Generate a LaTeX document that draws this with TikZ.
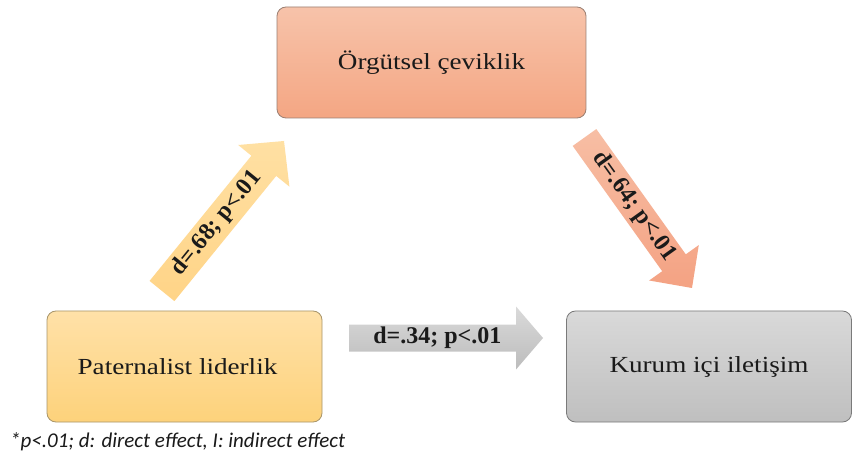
\documentclass[tikz,border=0pt]{standalone}
\usepackage{fontspec}
\setmainfont{Liberation Serif}
\newfontfamily\boxfont[FakeStretch=1.18]{Liberation Serif}
\newfontfamily\notefont{Carlito}
\usetikzlibrary{calc}
\definecolor{orgtop}{HTML}{F7C3AA}
\definecolor{orgbot}{HTML}{F4A683}
\definecolor{orgline}{HTML}{9A7F72}
\definecolor{pattop}{HTML}{FFE1A8}
\definecolor{patbot}{HTML}{FDD27B}
\definecolor{patline}{HTML}{A8956A}
\definecolor{kurtop}{HTML}{D9D9D9}
\definecolor{kurbot}{HTML}{BFBFBF}
\definecolor{kurline}{HTML}{7A7A7A}
\definecolor{uptop}{HTML}{FFE0A3}
\definecolor{upbot}{HTML}{FFD487}
\definecolor{dntop}{HTML}{F7BEA4}
\definecolor{dnbot}{HTML}{F4A283}
\definecolor{hztop}{HTML}{DADADA}
\definecolor{hzbot}{HTML}{BCBCBC}
\definecolor{ink}{HTML}{1A1A1A}
\newcommand{\myblockarrow}[6]{%
  \coordinate (hb) at ($(#2)!#5!(#1)$);
  \path[#6] ($(#1)!#3!90:(#2)$) -- ($(hb)!#3!90:(#2)$) -- ($(hb)!#4!90:(#2)$)
    -- (#2) -- ($(hb)!#4!-90:(#2)$) -- ($(hb)!#3!-90:(#2)$) -- ($(#1)!#3!-90:(#2)$) -- cycle;
}
\tikzset{
  stagebox/.style={rounded corners=9pt, line width=0.8pt, minimum height=111pt,
    inner sep=0pt, text=ink, font=\boxfont\fontsize{23}{27}\selectfont},
  arrlabel/.style={sloped, inner sep=0pt, text=ink, font=\bfseries\fontsize{24}{28}\selectfont},
}
\begin{document}
\begin{tikzpicture}[x=1pt,y=-1pt]
\useasboundingbox[fill=white] (0,0) rectangle (852,457);
% boxes
\node[stagebox, minimum width=309pt, draw=orgline, top color=orgtop, bottom color=orgbot]
  (org) at (431.5,62.5) {Örgütsel çeviklik};
\node[stagebox, minimum width=275pt, draw=patline, top color=pattop, bottom color=patbot]
  (pat) at (184.5,366.5) {\hspace*{-14pt}Paternalist liderlik};
\node[stagebox, minimum width=285pt, draw=kurline, top color=kurtop, bottom color=kurbot]
  (kur) at (709,366.5) {Kurum içi iletişim};
% arrow ends
\coordinate (upT) at (162,291);
\coordinate (upP) at (284,141);
\coordinate (dnT) at (584.5,137.5);
\coordinate (dnP) at (692,288);
\coordinate (hzT) at (349,338);
\coordinate (hzP) at (543,338);
% arrows
\myblockarrow{upT}{upP}{16pt}{33pt}{32pt}{top color=uptop, bottom color=upbot}
\myblockarrow{dnT}{dnP}{14.5pt}{30.5pt}{31pt}{top color=dntop, bottom color=dnbot}
\myblockarrow{hzT}{hzP}{13.5pt}{31.5pt}{27pt}{top color=hztop, bottom color=hzbot}
% labels
\path (upT) -- node[arrlabel, pos=0.45] (uplab) {d=.68; p<.01} (upP);
\path (dnT) -- node[arrlabel, pos=0.46] (dnlab) {d=.64; p<.01} (dnP);
\path (hzT) -- node[arrlabel, pos=0.455] (hzlab) {d=.34; p<.01} (hzP);
% note
\node[anchor=base west, inner sep=0pt, text=ink, font=\notefont\itshape\fontsize{21}{24}\selectfont]
  (note) at (10,447) {*p<.01; d: direct effect, I: indirect effect};
\end{tikzpicture}
\end{document}
